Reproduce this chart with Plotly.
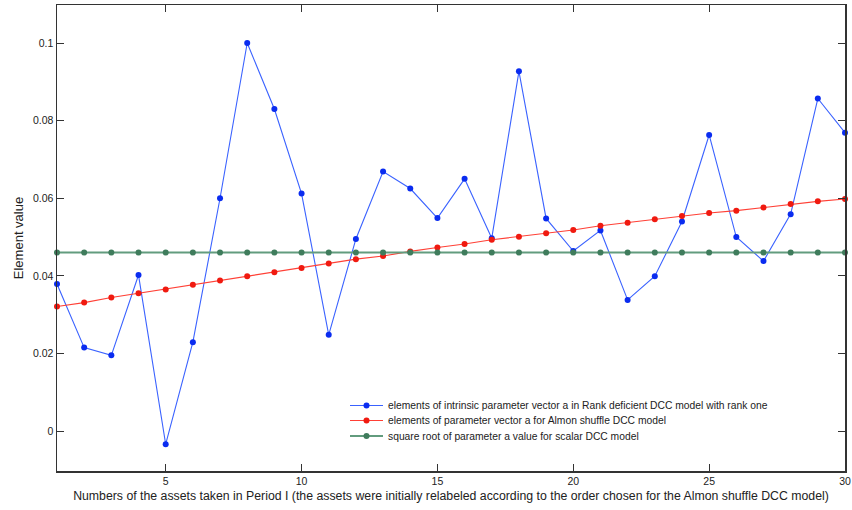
import plotly.graph_objects as go

assets = list(range(1, 31))

rank_deficient = [0.0379, 0.0215, 0.0195, 0.0402, -0.0034, 0.0229, 0.0600, 0.1000, 0.0830, 0.0612,
                  0.0248, 0.0495, 0.0669, 0.0625, 0.0549, 0.0650, 0.0497, 0.0927, 0.0548, 0.0464,
                  0.0517, 0.0338, 0.0399, 0.0540, 0.0763, 0.0500, 0.0438, 0.0559, 0.0857, 0.0769]

almon_shuffle = [0.0321, 0.0331, 0.0344, 0.0355, 0.0365, 0.0377, 0.0388, 0.0399, 0.0409, 0.0420,
                 0.0432, 0.0443, 0.0451, 0.0463, 0.0473, 0.0482, 0.0493, 0.0501, 0.0510, 0.0518,
                 0.0529, 0.0537, 0.0546, 0.0554, 0.0562, 0.0568, 0.0576, 0.0585, 0.0592, 0.0598]

scalar_dcc = [0.0460] * 30

names = [
    "elements of intrinsic parameter vector a in Rank deficient DCC model with rank one",
    "elements of parameter vector a for Almon shuffle DCC model",
    "square root of parameter a value for scalar DCC model",
]

x_ticks = [5, 10, 15, 20, 25, 30]
y_ticks = [0, 0.02, 0.04, 0.06, 0.08, 0.1]
y_tick_labels = ["0", "0.02", "0.04", "0.06", "0.08", "0.1"]

W, H = 852, 510
ML, MR, MT, MB = 57, 7, 5, 39
PW, PH = W - ML - MR, H - MT - MB

fig = go.Figure()
series = [
    (rank_deficient, "#3a62ff", "#0a2cf0", 1.1),
    (almon_shuffle, "#ff4036", "#f01a10", 1.1),
    (scalar_dcc, "#629c7e", "#3f7c5c", 2.0),
]

for (vals, lc, mc, lw), nm in zip(series, names):
    fig.add_trace(go.Scatter(
        x=assets, y=vals, name=nm, mode="lines+markers",
        line=dict(color=lc, width=lw),
        marker=dict(color=mc, size=6, line=dict(width=0)),
        cliponaxis=False, showlegend=False,
    ))

# custom compact legend (MATLAB-style)
def px_x(p):
    return (p - ML) / PW

def px_y(p):
    return (H - MB - p) / PH

legend_rows = [405.5, 420.5, 436.0]
for (vals, lc, mc, lw), nm, ry in zip(series, names, legend_rows):
    yy = px_y(ry)
    fig.add_shape(type="line", xref="paper", yref="paper",
                  x0=px_x(350), x1=px_x(383), y0=yy, y1=yy,
                  line=dict(color=lc, width=lw))
    fig.add_shape(type="circle", xref="paper", yref="paper",
                  xsizemode="pixel", ysizemode="pixel",
                  xanchor=px_x(366.5), yanchor=yy,
                  x0=-3, x1=3, y0=-3, y1=3,
                  fillcolor=mc, line=dict(width=0))
    fig.add_annotation(xref="paper", yref="paper", x=px_x(386), y=yy,
                       xanchor="left", yanchor="middle", showarrow=False,
                       text=nm, font=dict(size=10.3, color="#222222"))

axis_common = dict(
    showline=True, linecolor="#333333", linewidth=1.5, mirror="ticks",
    ticks="inside", ticklen=7, tickcolor="#333333", tickwidth=1,
    showgrid=False, zeroline=False, automargin=False,
    tickfont=dict(family="Liberation Sans, Arial", size=10.5, color="#222222"),
)

fig.update_layout(
    width=W, height=H,
    margin=dict(l=ML, r=MR, t=MT, b=MB, autoexpand=False),
    paper_bgcolor="white", plot_bgcolor="white",
    font=dict(family="Liberation Sans, Arial", size=11, color="#222222"),
    showlegend=False,
    hovermode=False,
    xaxis=dict(
        range=[1, 30], tickvals=x_ticks,
        title=dict(text="Numbers of the assets taken in Period I (the assets were initially relabeled according to the order chosen for the Almon shuffle DCC model)",
                   font=dict(size=12.3), standoff=5),
        **axis_common,
    ),
    yaxis=dict(
        range=[-0.0103, 0.1098], tickvals=y_ticks, ticktext=y_tick_labels,
        title=dict(text="Element value", font=dict(size=13), standoff=6),
        **axis_common,
    ),
)

fig.write_html("out.html", config={"displayModeBar": False, "staticPlot": True},
               post_script="document.body.style.margin='0';")
